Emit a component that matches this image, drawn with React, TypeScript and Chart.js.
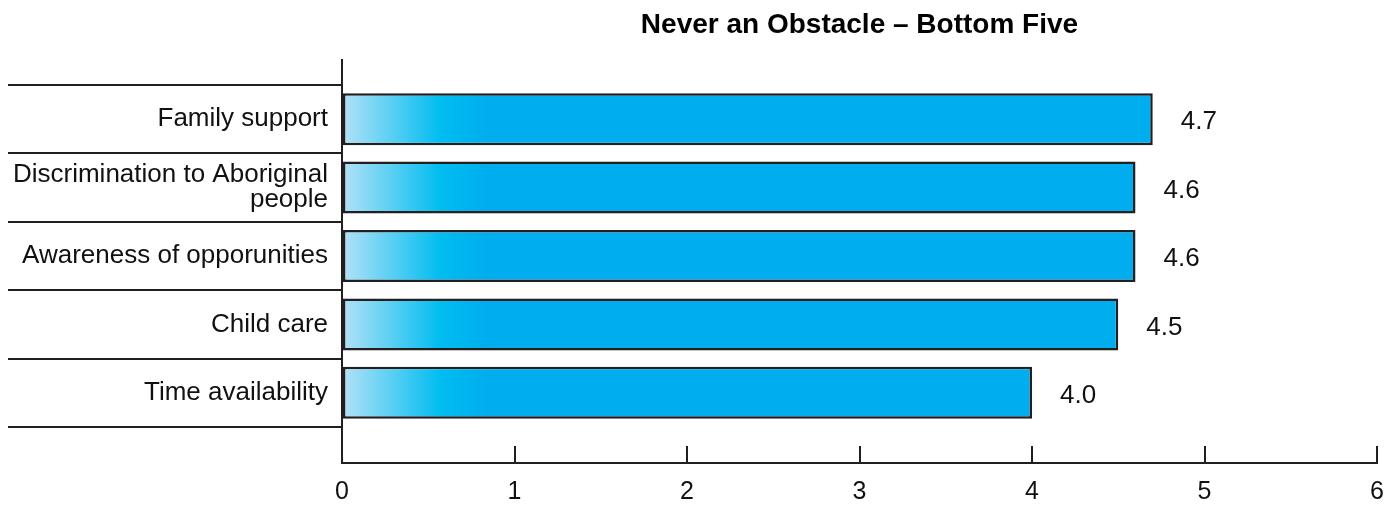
import React, { useEffect, useRef } from "react";
import { Chart, registerables } from "chart.js";

Chart.register(...registerables);

// Categories, top to bottom
const categories: (string | string[])[] = [
  "Family support",
  ["Discrimination to Aboriginal", "people"],
  "Awareness of opporunities",
  "Child care",
  "Time availability",
];
// Mean score per category
const values: number[] = [4.7, 4.6, 4.6, 4.5, 4.0];
// Value axis range and step
const xMin = 0;
const xMax = 6;
const xStep = 1;

const titleText = "Never an Obstacle – Bottom Five";

const INK = "#231f20";
const FONT = "'Liberation Sans', Arial, Helvetica, sans-serif";

// Writes each bar's value just past its end
const valueLabels = {
  id: "valueLabels",
  afterDatasetsDraw(chart: any) {
    const { ctx } = chart;
    const meta = chart.getDatasetMeta(0);
    ctx.save();
    ctx.font = `26px ${FONT}`;
    ctx.fillStyle = "#111";
    ctx.textAlign = "left";
    ctx.textBaseline = "middle";
    meta.data.forEach((bar: any, i: number) => {
      ctx.fillText(values[i].toFixed(1), bar.x + 28, bar.y + 3);
    });
    ctx.restore();
  },
};

export default function App() {
  const canvasRef = useRef<HTMLCanvasElement | null>(null);

  useEffect(() => {
    if (!canvasRef.current) return;
    Chart.defaults.font.family = FONT;
    Chart.defaults.color = "#111";

    const chart = new Chart(canvasRef.current, {
      type: "bar",
      data: {
        datasets: [
          {
            data: values.map((v, i) => ({ x: v, y: i })),
            backgroundColor: (c: any) => {
              const ch = c.chart;
              if (!ch.chartArea) return "#00aeef";
              const xs = ch.scales.x;
              const x0 = xs.getPixelForValue(0);
              const x1 = xs.getPixelForValue(1);
              const g = ch.ctx.createLinearGradient(x0, 0, x1, 0);
              g.addColorStop(0, "#b4e2f7");
              g.addColorStop(0.57, "#00bdf0");
              g.addColorStop(0.85, "#00adee");
              g.addColorStop(1, "#00adee");
              return g;
            },
            borderColor: INK,
            borderWidth: 2.5,
            borderSkipped: false,
            barPercentage: 0.76,
            categoryPercentage: 1,
          },
        ],
      },
      options: {
        indexAxis: "y",
        animation: false,
        responsive: false,
        layout: { padding: { left: 8, right: 18, top: 0, bottom: 0 } },
        plugins: {
          legend: { display: false },
          tooltip: { enabled: false },
          title: {
            display: true,
            text: titleText,
            fullSize: false,
            color: "#000",
            font: { size: 28, weight: "bold", family: FONT, lineHeight: 1.2 },
            padding: { top: 8, bottom: 18.4 },
          },
        },
        scales: {
          x: {
            type: "linear",
            min: xMin,
            max: xMax,
            ticks: {
              stepSize: xStep,
              font: { size: 25 },
              color: "#111",
              padding: 31,
              maxRotation: 0,
            },
            grid: {
              drawOnChartArea: false,
              drawTicks: true,
              tickLength: -17,
              color: INK,
              lineWidth: 2,
            },
            border: { display: true, color: INK, width: 2 },
            afterFit: (s: any) => {
              s.height = 43;
              s.paddingLeft = 0;
              s.paddingRight = 0;
            },
          },
          y: {
            type: "linear",
            reverse: true,
            offset: false,
            bounds: "data",
            min: -0.8655,
            max: 5.026,
            afterBuildTicks: (s: any) => {
              s.ticks = categories.map((_, i) => ({ value: i }));
            },
            ticks: {
              callback: (v: any) => categories[Math.round(Number(v))] as any,
              font: { size: 26, lineHeight: "25px" as any },
              color: "#111",
              padding: -320,
              crossAlign: "near",
            },
            grid: {
              offset: true,
              drawOnChartArea: false,
              drawTicks: true,
              tickLength: 334,
              color: INK,
              lineWidth: 2,
            },
            border: { display: true, color: INK, width: 2 },
            afterFit: (s: any) => {
              s.width = 334;
              s.paddingTop = 0;
              s.paddingBottom = 0;
            },
          },
        },
      } as any,
      plugins: [valueLabels],
    });

    return () => chart.destroy();
  }, []);

  return (
    <div style={{ position: "fixed", left: 0, top: 0, width: 1395, height: 506, background: "#fff" }}>
      <canvas ref={canvasRef} width={1395} height={506} style={{ display: "block" }} />
    </div>
  );
}
